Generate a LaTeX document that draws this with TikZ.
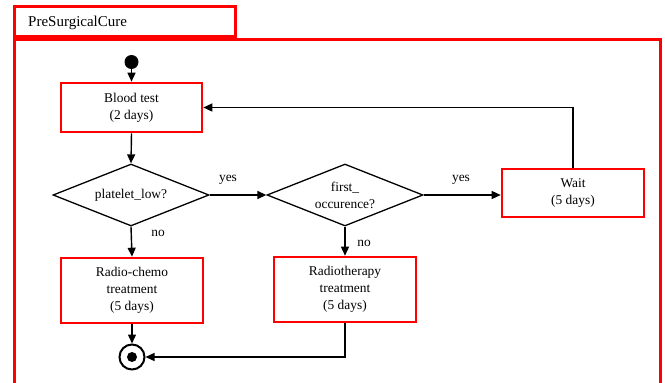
\documentclass[tikz,border=0pt]{standalone}
\usepackage{fontspec}
\setmainfont{Liberation Serif}
\usetikzlibrary{arrows.meta,shapes.geometric}
\begin{document}
\begin{tikzpicture}[x=1pt,y=-1pt,
  redbox/.style={draw=red,line width=2.6pt,rectangle,align=center,font=\fontsize{13.4}{17}\selectfont,inner sep=0pt},
  decision/.style={draw=black,line width=1.3pt,diamond,align=center,font=\fontsize{13.4}{17}\selectfont,inner sep=0pt,aspect=2.5,minimum width=156pt,minimum height=62pt},
  flow/.style={line width=1.4pt,-{Triangle[length=9pt,width=8pt]}},
  plainline/.style={line width=1.4pt},
  lbl/.style={font=\fontsize{13.4}{17}\selectfont,inner sep=0pt}]
\useasboundingbox (0,0) rectangle (665,383);
\begin{scope}
\clip (0,0) rectangle (665,383);
% frame
\node[draw=red,line width=2.6pt,rectangle,minimum width=646pt,minimum height=362pt,anchor=north west,inner sep=0pt] (frame) at (13,38) {};
\node[draw=red,line width=2.6pt,rectangle,minimum width=221pt,minimum height=30pt,anchor=south west,inner sep=0pt] (tab) at (13,38) {};
\node[font=\fontsize{15}{18}\selectfont,anchor=west,inner sep=0pt] (title) at (28,23) {PreSurgicalCure};
\end{scope}
% start
\node[circle,fill=black,minimum size=14pt,inner sep=0pt] (start) at (131.5,62) {};
% boxes
\node[redbox,minimum width=141pt,minimum height=49pt] (blood) at (131.5,107.5) {Blood test\\(2 days)};
\node[decision] (d1) at (131,195) {platelet\_low?};
\node[decision] (d2) at (345,195) {first\_\\occurence?};
\node[redbox,minimum width=142pt,minimum height=48pt] (wait) at (573,193) {Wait\\(5 days)};
\node[redbox,minimum width=142pt,minimum height=65pt] (rc) at (132,290.5) {Radio-chemo\\treatment\\(5 days)};
\node[redbox,minimum width=142pt,minimum height=65pt] (rt) at (345,289.5) {Radiotherapy\\treatment\\(5 days)};
% end
\node[circle,draw=black,line width=2pt,minimum size=25pt,inner sep=0pt] (end) at (132,357) {};
\node[circle,fill=black,minimum size=10pt,inner sep=0pt] (enddot) at (end.center) {};
% connectors
\draw[flow] (start) -- (blood.north);
\draw[flow] (blood.south) -- (d1.north);
\draw[flow] (d1.east) -- (d2.west);
\draw[flow] (d1.south) -- (rc.north);
\draw[flow] (d2.east) -- (d2.east -| wait.west);
\draw[flow] (d2.south) -- (rt.north);
\draw[flow] (rc.south) -- (end.north);
\draw[flow] (rt.south) |- (end.east);
\draw[flow] (wait.north) |- (blood.east);
% labels
\node[lbl] (yes1) at (228,180) {yes};
\node[lbl] (no1) at (158,233) {no};
\node[lbl] (yes2) at (461,180) {yes};
\node[lbl] (no2) at (364,243) {no};
\end{tikzpicture}
\end{document}
